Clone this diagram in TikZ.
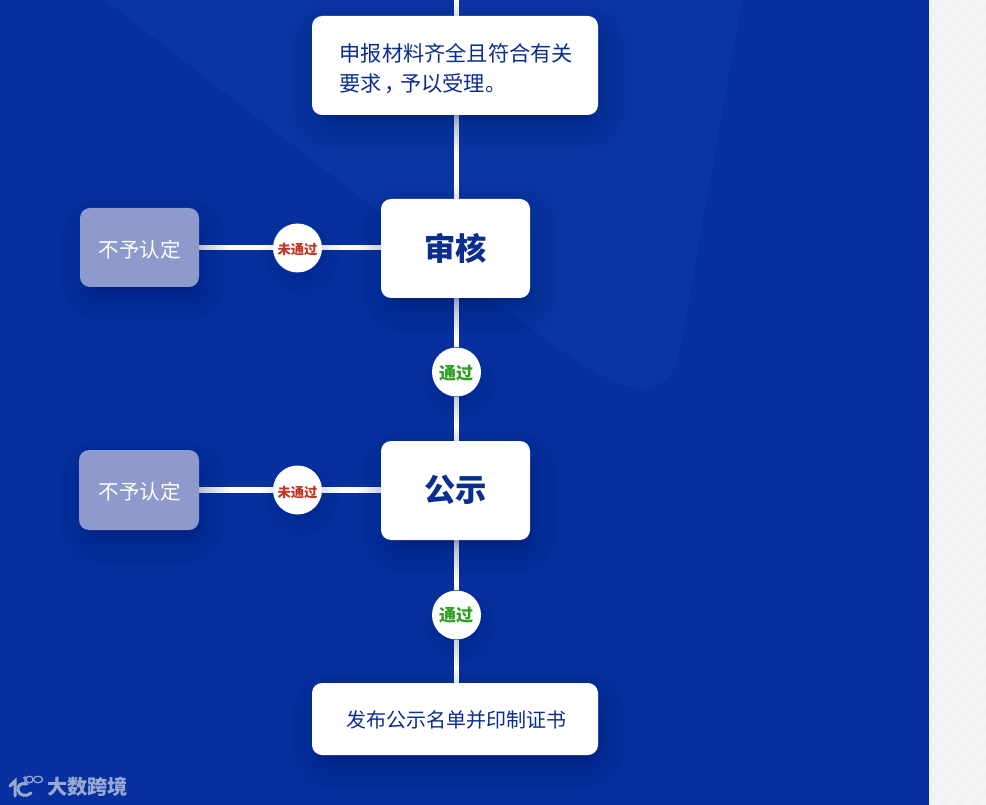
\documentclass[tikz,border=0pt]{standalone}
\usepackage{fontspec}
\setmainfont{Noto Sans CJK SC}
\usetikzlibrary{backgrounds}
\pgfdeclarelayer{lines}
\pgfdeclarelayer{shadow}
\pgfsetlayers{background,lines,shadow,main}
\definecolor{bgblue}{HTML}{05309E}
\definecolor{bglight}{HTML}{0A35A4}
\definecolor{ink}{HTML}{0A2E8F}
\definecolor{stripeA}{HTML}{F2F2F2}
\definecolor{stripeB}{HTML}{F5F5F5}
\definecolor{refuse}{HTML}{8E9ACC}
\definecolor{okgreen}{HTML}{2BA01E}
\definecolor{nored}{HTML}{BF3423}
\definecolor{shadowblue}{HTML}{011A66}
\definecolor{logoc}{HTML}{9AA9D4}
\tikzset{
  x=1pt,y=-1pt,
  card/.style={fill=white,rounded corners=10pt,inner sep=0pt,text=ink,align=left},
  refusebox/.style={fill=refuse,rounded corners=10pt,inner sep=0pt},
  refusetext/.style={inner sep=0pt,text=white,font=\fontsize{20.5pt}{24pt}\selectfont},
  badge/.style={circle,fill=white,minimum size=49pt,inner sep=0pt},
  flow/.style={white,line width=5.4pt},
}
\newcommand{\softshade}[5]{% x1 y1 x2 y2 radius
  \begin{pgfonlayer}{shadow}
  \foreach \s in {0,...,15}{
    \pgfmathsetmacro{\g}{-10+36*(\s/15)*(\s/15)}
    \fill[shadowblue,opacity=0.035,rounded corners={min(#5+(\g+10)*0.9,40)}]
      ({#1+4-\g},{#2+12-\g}) rectangle ({#3+4+\g},{#4+12+\g});
  }
  \end{pgfonlayer}}
\begin{document}
\begin{tikzpicture}
\useasboundingbox (0,0) rectangle (986,805);
\begin{pgfonlayer}{background}
  \fill[bgblue] (0,0) rectangle (930,805);
  \fill[bglight] (105,0) -- (500,305) .. controls (560,350) and (610,390) .. (645,388)
     .. controls (668,386) and (677,370) .. (681,345) -- (742,0) -- cycle;
  \fill[stripeA] (929,0) rectangle (986,805);
  \begin{scope}
    \clip (929,0) rectangle (986,805);
    \foreach \k in {0,...,60}{
      \draw[stripeB,line width=5pt] ({900+\k*16},-10) -- ({900+\k*16-900},890);
    }
  \end{scope}
\end{pgfonlayer}

\softshade{312}{16}{598}{115}{10}
\softshade{381}{199}{530}{298}{10}
\softshade{80}{208}{199}{287}{10}
\softshade{381}{441}{530}{540}{10}
\softshade{79}{450}{199}{530}{10}
\softshade{312}{683}{598}{755}{10}
\softshade{283}{234}{312}{262}{14}
\softshade{283}{476}{312}{504}{14}
\softshade{442}{359}{471}{386}{14}
\softshade{442}{601}{471}{629}{14}

\coordinate (topend) at (456.7,0);
\node[card,minimum width=286pt,minimum height=99pt] (apply) at (455,65.5) {};
\node[anchor=west,text=ink,align=left,font=\fontsize{21.2pt}{30pt}\selectfont,inner sep=0pt] (applytext) at (339.5,69)
  {申报材料齐全且符合有关\\要求\kern.1em，\kern-.24em予以受理。};
\node[card,minimum width=149pt,minimum height=99pt] (review) at (455.5,248.5) {};
\node[text=ink,inner sep=0pt,font=\fontsize{31.3pt}{34pt}\selectfont\bfseries] (reviewtext) at (455.5,248) {审核};
\node[card,minimum width=149pt,minimum height=99pt] (notice) at (455.5,490.5) {};
\node[text=ink,inner sep=0pt,font=\fontsize{31.3pt}{34pt}\selectfont\bfseries] (noticetext) at (455.5,490) {公示};
\node[card,minimum width=286pt,minimum height=72pt] (issue) at (455,719) {};
\node[text=ink,inner sep=0pt,font=\fontsize{20pt}{24pt}\selectfont] (issuetext) at (456,720) {发布公示名单并印制证书};
\node[refusebox,minimum width=119pt,minimum height=79pt] (refuseA) at (139.5,247.5) {};
\node[refusetext] (refuseAtext) at (139.5,250) {不予认定};
\node[refusebox,minimum width=120pt,minimum height=80pt] (refuseB) at (139,490) {};
\node[refusetext] (refuseBtext) at (139.5,491.5) {不予认定};
\node[badge] (failA) at (297.5,248) {};
\node[text=nored,inner sep=0pt,font=\fontsize{13.3pt}{15pt}\selectfont\bfseries] (failAtext) at (297.5,249) {未通过};
\node[badge] (failB) at (297.5,490) {};
\node[text=nored,inner sep=0pt,font=\fontsize{13.3pt}{15pt}\selectfont\bfseries] (failBtext) at (297.5,492) {未通过};
\node[badge] (passA) at (456.5,372) {};
\node[text=okgreen,inner sep=0pt,font=\fontsize{17pt}{19pt}\selectfont\bfseries] (passAtext) at (456,373.5) {通过};
\node[badge] (passB) at (456.5,615) {};
\node[text=okgreen,inner sep=0pt,font=\fontsize{17pt}{19pt}\selectfont\bfseries] (passBtext) at (456,615.5) {通过};

\begin{pgfonlayer}{lines}
  \draw[flow] (topend) -- (apply.north -| topend);
  \draw[flow] (apply.south -| topend) -- (review.north -| topend);
  \draw[flow] (review.south -| topend) -- (passA.north -| topend);
  \draw[flow] (passA.south -| topend) -- (notice.north -| topend);
  \draw[flow] (notice.south -| topend) -- (passB.north -| topend);
  \draw[flow] (passB.south -| topend) -- (issue.north -| topend);
  \draw[flow] (refuseA.east) -- (failA.west |- refuseA.east);
  \draw[flow] (failA.east |- refuseA.east) -- (review.west |- refuseA.east);
  \draw[flow] (refuseB.east) -- (failB.west |- refuseB.east);
  \draw[flow] (failB.east |- refuseB.east) -- (notice.west |- refuseB.east);
\end{pgfonlayer}

% logo
\begin{scope}[logoc,line cap=round]
  \draw[line width=3pt] (10,786) -- (15,781) -- (15,796);
  \draw[line width=3pt] (27,784) .. controls (21,782) and (17,786) .. (18,790) .. controls (19,796) and (27,797) .. (31,793);
  \draw[line width=1.2pt] (23.5,778) -- (25,777) -- (25,785);
  \draw[line width=1.2pt] (29.5,779.5) circle[x radius=3.6pt,y radius=3.3pt];
  \draw[line width=1.2pt] (38,779.5) circle[x radius=4.6pt,y radius=3.3pt];
\end{scope}
\node[anchor=west,inner sep=0pt,text=logoc,font=\fontsize{20.2pt}{22pt}\selectfont\bfseries] (logotext) at (47,787) {大数跨境};
\end{tikzpicture}
\end{document}
